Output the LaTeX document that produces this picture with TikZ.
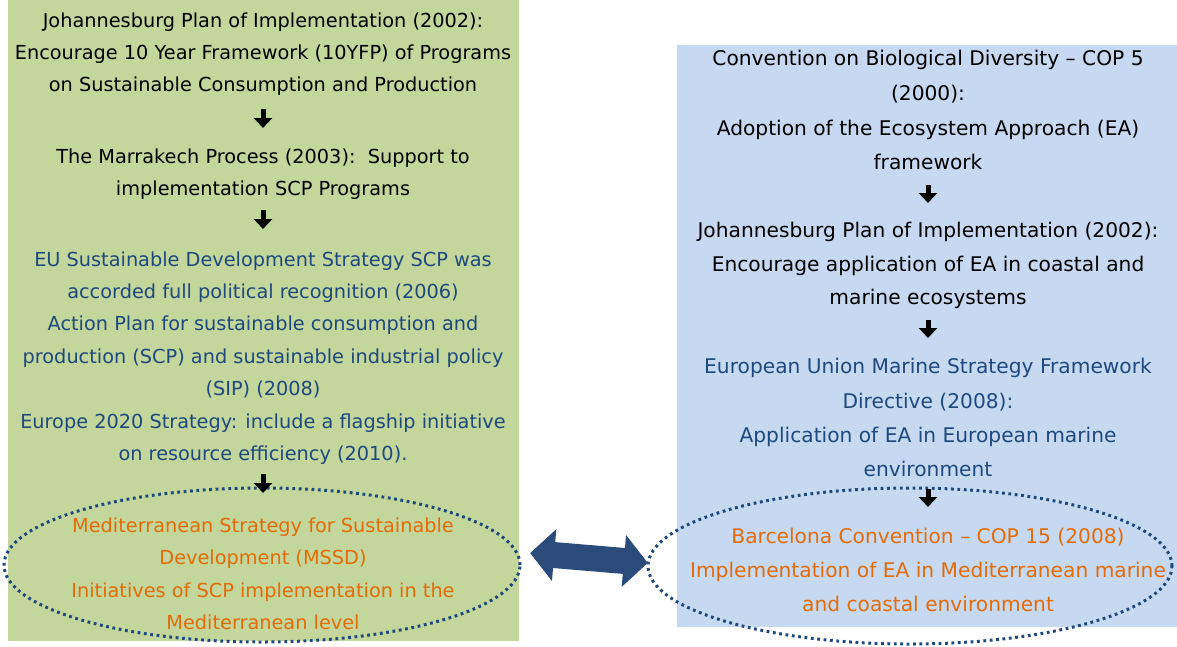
\documentclass[tikz,border=0pt]{standalone}
\usepackage{fontspec}
\setmainfont{DejaVu Sans}
\usetikzlibrary{arrows.meta,shapes.geometric}
\definecolor{greenbg}{HTML}{C3D69B}
\definecolor{bluebg}{HTML}{C6D9F0}
\definecolor{navy}{HTML}{1F497D}
\definecolor{orng}{HTML}{E36C09}
\definecolor{arrowblue}{HTML}{2B4B7B}
\begin{document}
\begin{tikzpicture}[x=1pt,y=-1pt,
 txtline/.style={anchor=base, inner sep=0pt},
 lfont/.style={font=\fontsize{19.3}{23}\selectfont},
 rfont/.style={font=\fontsize{20.2}{24}\selectfont},
 blk/.style={txtline,text=black},
 nav/.style={txtline,text=navy},
 org/.style={txtline,text=orng},
 downarr/.style={line width=5pt,-{Triangle[length=10pt,width=18pt]}},
 dotell/.style={ellipse, draw=navy, line width=3pt, dash pattern=on 2.8pt off 3.6pt, inner sep=0pt},
]
\useasboundingbox (0,0) rectangle (1177,646);
% panels
\fill[greenbg] (8,0) rectangle (519,641);
\fill[bluebg] (677,45) rectangle (1177,627);
% ellipses
\node[dotell, minimum width=516pt, minimum height=154pt] (E1) at (262,565) {};
\node[dotell, minimum width=524pt, minimum height=156pt] (E2) at (910,566) {};
% double arrow between the ellipses
\begin{scope}[shift={(589,558)}, rotate=-4.8]
  \fill[arrowblue] (-59,0) -- (-35,-26) -- (-35,-13) -- (35,-13) -- (35,-26)
    -- (59,0) -- (35,26) -- (35,13) -- (-35,13) -- (-35,26) -- cycle;
\end{scope}
% left column
\begin{scope}[lfont]
\node[blk] (L1) at (263,27) {Johannesburg Plan of Implementation (2002):};
\node[blk] (L2) at (263,59) {Encourage 10 Year Framework (10YFP) of Programs};
\node[blk] (L3) at (263,91) {on Sustainable Consumption and Production};
\node[blk] (L4) at (263,163) {The Marrakech Process (2003):\ \ Support to};
\node[blk] (L5) at (263,195) {implementation SCP Programs};
\node[nav] (L6) at (263,266) {EU Sustainable Development Strategy SCP was};
\node[nav] (L7) at (263,298) {accorded full political recognition (2006)};
\node[nav] (L8) at (263,330) {Action Plan for sustainable consumption and};
\node[nav] (L9) at (263,363) {production (SCP) and sustainable industrial policy};
\node[nav] (L10) at (263,395) {(SIP) (2008)};
\node[nav] (L11) at (263,428) {Europe 2020 Strategy: include a flagship initiative};
\node[nav] (L12) at (263,460) {on resource efficiency (2010).};
\node[org] (L13) at (263,532) {Mediterranean Strategy for Sustainable};
\node[org] (L14) at (263,564) {Development (MSSD)};
\node[org] (L15) at (263,597) {Initiatives of SCP implementation in the};
\node[org] (L16) at (263,629) {Mediterranean level};
\end{scope}
% right column
\begin{scope}[rfont]
\node[blk] (R1) at (928,65) {Convention on Biological Diversity – COP 5};
\node[blk] (R2) at (928,100) {(2000):};
\node[blk] (R3) at (928,135) {Adoption of the Ecosystem Approach (EA)};
\node[blk] (R4) at (928,169) {framework};
\node[blk] (R5) at (928,237) {Johannesburg Plan of Implementation (2002):};
\node[blk] (R6) at (928,271) {Encourage application of EA in coastal and};
\node[blk] (R7) at (928,304) {marine ecosystems};
\node[nav] (R8) at (928,373) {European Union Marine Strategy Framework};
\node[nav] (R9) at (928,408) {Directive (2008):};
\node[nav] (R10) at (928,442) {Application of EA in European marine};
\node[nav] (R11) at (928,476) {environment};
\node[org] (R12) at (928,543) {Barcelona Convention – COP 15 (2008)};
\node[org] (R13) at (928,577) {Implementation of EA in Mediterranean marine};
\node[org] (R14) at (928,611) {and coastal environment};
\end{scope}
% down arrows
\coordinate (a1s) at (263,109); \coordinate (a1e) at (263,128);
\coordinate (a2s) at (263,210); \coordinate (a2e) at (263,229);
\coordinate (a3s) at (263,474); \coordinate (a3e) at (263,493);
\coordinate (b1s) at (928,185); \coordinate (b1e) at (928,203);
\coordinate (b2s) at (928,320); \coordinate (b2e) at (928,338);
\coordinate (b3s) at (928,489); \coordinate (b3e) at (928,507);
\foreach \s/\e in {a1s/a1e,a2s/a2e,a3s/a3e,b1s/b1e,b2s/b2e,b3s/b3e}
  \draw[downarr] (\s) -- (\e);
\end{tikzpicture}
\end{document}
